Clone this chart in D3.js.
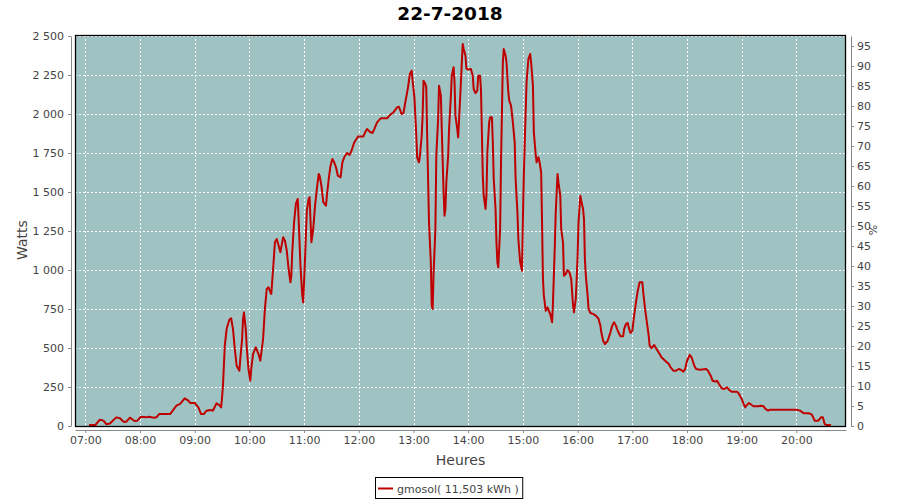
<!DOCTYPE html>
<html>
<head>
<meta charset="utf-8">
<script src="https://cdn.jsdelivr.net/npm/d3@7"></script>
<style>
  html, body { margin: 0; padding: 0; background: #ffffff; }
  svg { display: block; }
  text { font-family: "DejaVu Sans", sans-serif; }
</style>
</head>
<body>
<svg id="chart" width="900" height="500"></svg>
<script>
// ---------- data ----------
const chartTitle = "22-7-2018";
const seriesName = "gmosol( 11,503 kWh )";
const xTickLabels = ["07:00","08:00","09:00","10:00","11:00","12:00","13:00","14:00","15:00","16:00","17:00","18:00","19:00","20:00"];
const yTicks = [0,250,500,750,1000,1250,1500,1750,2000,2250,2500];
const pctTicks = [0,5,10,15,20,25,30,35,40,45,50,55,60,65,70,75,80,85,90,95];

const times = [
"07:04","07:11","07:16","07:20","07:23","07:27","07:34","07:38","07:42","07:45","07:49","07:54","07:57",
"08:01","08:07","08:10","08:15","08:18","08:21","08:33","08:40","08:44","08:49","08:53","08:55",
"09:00","09:04","09:07","09:10","09:13","09:17","09:20","09:24","09:27","09:29","09:30","09:31","09:33","09:35","09:38","09:40","09:42","09:44","09:46","09:49","09:50","09:52","09:53","09:54","09:56","09:57","09:59",
"10:01","10:02","10:04","10:07","10:10","10:12","10:15","10:17","10:19","10:21","10:23","10:24","10:26","10:28","10:30","10:32","10:34","10:35","10:37","10:39","10:41","10:43","10:45","10:46","10:47","10:49","10:51","10:53","10:54","10:56","10:58","10:59",
"11:01","11:03","11:05","11:06","11:08","11:10","11:12","11:14","11:16","11:17","11:19","11:21","11:24","11:25","11:27","11:29","11:31","11:33","11:35","11:37","11:40","11:42","11:44","11:47","11:50","11:52","11:55","11:58","11:59",
"12:05","12:07","12:09","12:12","12:15","12:17","12:20","12:24","12:31","12:34","12:38","12:42","12:44","12:47","12:49","12:51","12:53","12:54","12:56","12:58","12:59",
"13:01","13:02","13:03","13:04","13:06","13:07","13:09","13:10","13:11","13:13","13:14","13:15","13:16","13:17","13:19","13:20","13:21","13:22","13:24","13:25","13:27","13:28","13:30","13:31","13:33","13:34","13:35","13:36","13:38","13:39","13:41","13:42","13:44","13:45","13:46","13:48","13:49","13:50","13:52","13:53","13:54","13:55","13:57","13:58",
"14:00","14:03","14:05","14:06","14:08","14:10","14:11","14:13","14:14","14:16","14:17","14:19","14:20","14:21","14:23","14:24","14:26","14:27","14:28","14:30","14:31","14:32","14:33","14:35","14:36","14:38","14:39","14:41","14:42","14:44","14:45","14:47","14:49","14:51","14:52","14:54","14:55","14:57","14:59",
"15:00","15:01","15:03","15:04","15:06","15:08","15:09","15:11","15:12","15:14","15:15","15:17","15:18","15:20","15:21","15:22","15:23","15:25","15:27","15:29","15:30","15:32","15:33","15:35","15:36","15:38","15:39","15:41","15:42","15:44","15:45","15:47","15:49","15:51","15:53","15:55","15:56","15:58","15:59",
"16:00","16:01","16:03","16:04","16:06","16:07","16:08","16:09","16:11","16:12","16:14","16:17","16:20","16:23","16:25","16:26","16:28","16:30","16:33","16:36","16:38","16:40","16:42","16:44","16:47","16:50","16:51","16:53","16:55","16:56","16:58",
"17:00","17:02","17:04","17:06","17:08","17:11","17:12","17:14","17:16","17:18","17:19","17:21","17:24","17:27","17:30","17:32","17:36","17:40","17:42","17:45","17:48","17:51","17:53","17:56","17:58",
"18:00","18:03","18:05","18:08","18:10","18:14","18:21","18:23","18:26","18:28","18:31","18:33","18:35","18:38","18:41","18:44","18:46","18:49","18:55","18:57",
"19:00","19:02","19:04","19:05","19:08","19:11","19:13","19:18","19:21","19:24","19:26","19:29","19:31",
"20:00","20:04","20:08","20:14","20:17","20:20","20:24","20:27","20:29","20:31","20:33","20:38"
];
const watts = [
0,0,34,28,5,10,49,43,21,21,47,26,28,
53,49,53,47,49,70,70,124,135,171,156,141,
141,113,70,70,92,96,92,139,128,113,178,252,508,615,675,684,615,487,380,348,423,551,679,722,615,508,359,
284,359,455,498,455,412,551,744,872,883,851,840,1000,1171,1192,1150,1107,1140,1203,1181,1117,1000,915,957,1107,1299,1417,1449,1320,1021,829,786,
1064,1374,1449,1460,1171,1256,1406,1513,1609,1598,1534,1428,1406,1470,1577,1662,1705,1684,1652,1598,1588,1684,1716,1744,1731,1758,1812,1838,1850,
1850,1876,1897,1880,1872,1897,1940,1966,1966,1987,2004,2036,2040,1993,2000,2068,2132,2165,2250,2271,2207,
2100,1983,1865,1716,1684,1726,1854,1983,2207,2186,2165,1854,1577,1299,1043,765,744,968,1256,1726,1961,2175,2111,1897,1491,1342,1385,1555,1726,1897,2111,2239,2293,2197,1983,1897,1844,1961,2197,2325,2442,2410,2367,2286,
2278,2282,2239,2154,2128,2143,2239,2239,2154,1598,1470,1385,1470,1748,1940,1972,1972,1812,1577,1385,1171,1043,1011,1256,1684,2325,2410,2367,2325,2133,2079,2047,1940,1812,1577,1363,1192,1043,989,
1320,1598,2004,2197,2346,2378,2325,2175,1876,1737,1684,1716,1694,1620,1299,936,829,733,754,722,712,658,786,1149,1363,1609,1555,1470,1256,1171,957,968,993,979,936,765,722,808,936,
1085,1299,1470,1438,1385,1320,1064,957,829,744,718,712,701,680,637,594,540,519,540,594,637,658,637,604,569,569,615,647,654,626,590,
604,701,786,861,915,915,851,744,658,572,508,492,513,483,455,434,412,391,370,348,348,359,355,342,359,
412,449,434,380,359,354,359,348,316,284,278,284,263,235,231,242,226,213,213,199,
167,135,113,124,141,128,120,120,124,120,103,92,98,
98,92,75,75,66,28,28,49,49,6,0,0
];

// ---------- layout ----------
const svg = d3.select("#chart");
const plot = { left: 75, right: 846, top: 35, bottom: 426 };
const parseT = d3.timeParse("%H:%M:%S");
const parseHM = d3.timeParse("%H:%M");

const data = times.map((t, i) => ({ t: parseHM(t), w: watts[i] }));

const x = d3.scaleTime()
  .domain([parseT("06:48:42"), parseT("20:54:24")])
  .range([plot.left, plot.right]);
const y = d3.scaleLinear().domain([0, 2500]).range([plot.bottom, 36]);
const yPct = d3.scaleLinear().domain([0, 97.5]).range([plot.bottom, 36]);

const tickColor = "#444444";
const axisColor = "#888888";

// plot background
svg.append("rect")
  .attr("x", plot.left).attr("y", plot.top)
  .attr("width", plot.right - plot.left).attr("height", plot.bottom - plot.top)
  .attr("fill", "#9fc3c3");

// gridlines
const grid = svg.append("g").attr("stroke", "#ffffff").attr("stroke-width", 1).attr("stroke-dasharray", "2,2");
yTicks.forEach(v => {
  const yy = Math.round(y(v)) + 0.5;
  grid.append("line").attr("x1", plot.left).attr("x2", plot.right).attr("y1", yy).attr("y2", yy);
});
xTickLabels.forEach(s => {
  const xx = Math.round(x(parseHM(s))) + 0.5;
  grid.append("line").attr("x1", xx).attr("x2", xx).attr("y1", plot.top).attr("y2", plot.bottom);
});

// series line
svg.append("path")
  .datum(data)
  .attr("fill", "none")
  .attr("stroke", "#bf0000")
  .attr("stroke-width", 2)
  .attr("stroke-linejoin", "round")
  .attr("d", d3.line().x(d => x(d.t)).y(d => y(d.w) - 1));

// plot outline
svg.append("rect")
  .attr("x", plot.left + 0.5).attr("y", plot.top + 0.5)
  .attr("width", plot.right - plot.left - 1).attr("height", plot.bottom - plot.top)
  .attr("fill", "none").attr("stroke", "#000000").attr("stroke-width", 1.3);

// axes
function styleAxis(g) {
  g.select(".domain").attr("stroke", axisColor);
  g.selectAll(".tick line").attr("stroke", axisColor);
  g.selectAll(".tick text").attr("fill", tickColor)
    .style("font-family", '"DejaVu Sans", sans-serif').style("font-size", "11px");
}
const fmtW = v => d3.format(",")(v).replace(/,/g, " ");

svg.append("g").attr("transform", "translate(71,0)")
  .call(d3.axisLeft(y).tickValues(yTicks).tickFormat(fmtW).tickSize(3).tickSizeOuter(0).tickPadding(4))
  .call(styleAxis);

svg.append("g").attr("transform", "translate(851,0)")
  .call(d3.axisRight(yPct).tickValues(pctTicks).tickSize(3).tickSizeOuter(0).tickPadding(3))
  .call(styleAxis);

svg.append("g").attr("transform", "translate(0,430)")
  .call(d3.axisBottom(x).tickValues(xTickLabels.map(s => parseHM(s)))
    .tickFormat(d3.timeFormat("%H:%M")).tickSize(3).tickSizeOuter(0).tickPadding(3))
  .call(styleAxis);

// domain lines spanning plot
svg.select("g path.domain");

// title
svg.append("text").attr("x", 450).attr("y", 20).attr("text-anchor", "middle")
  .style("font-size", "18.5px").style("font-weight", "bold").attr("fill", "#000")
  .text(chartTitle);

// axis labels
svg.append("text").attr("transform", "translate(27,240) rotate(-90)").attr("text-anchor", "middle")
  .style("font-size", "14px").attr("fill", tickColor).text("Watts");
svg.append("text").attr("transform", "translate(877,230) rotate(-90)").attr("text-anchor", "middle")
  .style("font-size", "11px").attr("fill", tickColor).text("%");
svg.append("text").attr("x", 460.5).attr("y", 465).attr("text-anchor", "middle")
  .style("font-size", "14px").attr("fill", tickColor).text("Heures");

// legend
const leg = svg.append("g");
const legText = leg.append("text").attr("x", 397).attr("y", 493)
  .style("font-size", "11px").attr("fill", tickColor).text(seriesName);
const tw = legText.node().getComputedTextLength();
leg.insert("rect", "text").attr("x", 375.5).attr("y", 477.5)
  .attr("width", 397 + tw + 4 - 375.5).attr("height", 21)
  .attr("fill", "#ffffff").attr("stroke", "#000").attr("stroke-width", 1);
leg.append("line").attr("x1", 378).attr("x2", 393).attr("y1", 488.5).attr("y2", 488.5)
  .attr("stroke", "#bf0000").attr("stroke-width", 2);
</script>
</body>
</html>
